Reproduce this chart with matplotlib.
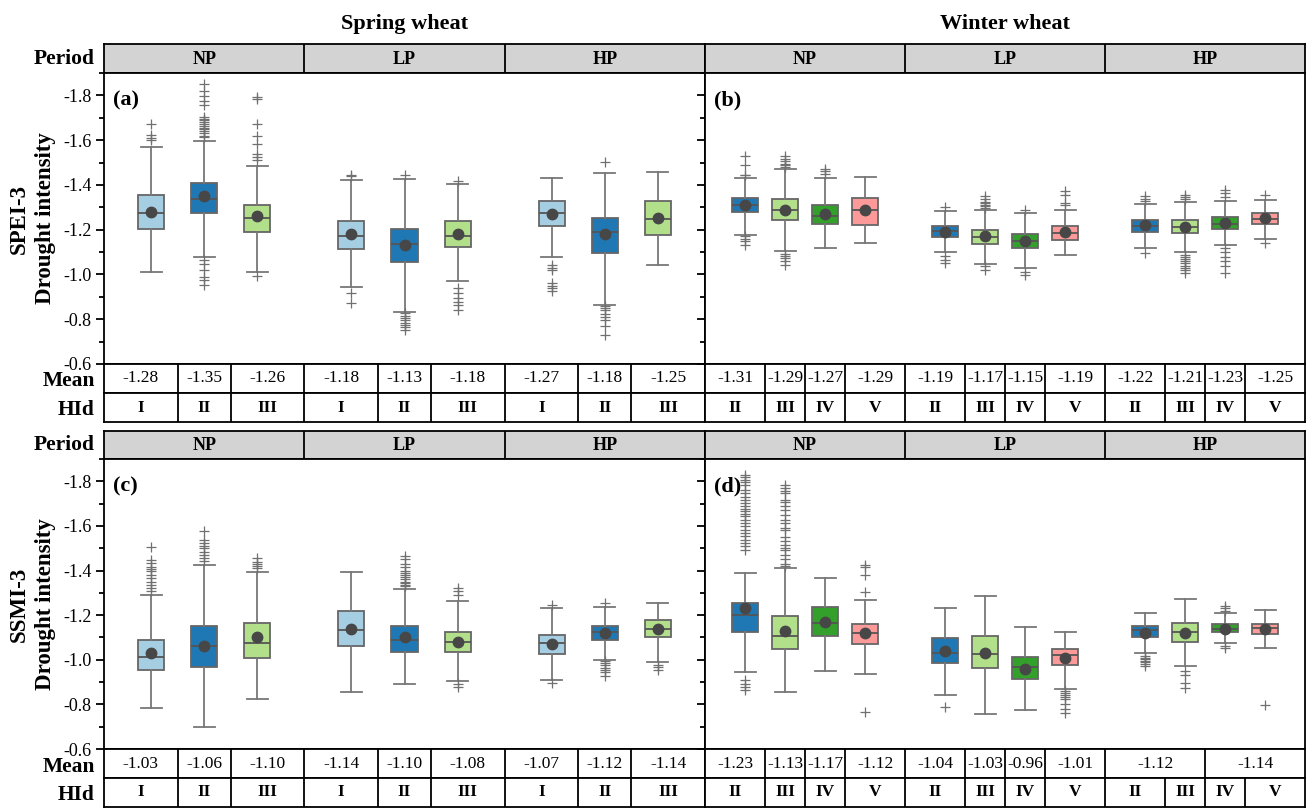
import matplotlib.pyplot as plt
from matplotlib.ticker import MultipleLocator

# ---- data ----
periods = ['NP', 'LP', 'HP']
hid_spring = ['I', 'II', 'III'] * 3
hid_winter = ['II', 'III', 'IV', 'V'] * 3
hid_colors = {'I': '#a6cee3', 'II': '#1f78b4', 'III': '#b2df8a', 'IV': '#33a02c', 'V': '#fb9a99'}

# (a) SPEI-3, spring wheat
a_whislo = [-1.570, -1.597, -1.484, -1.424, -1.427, -1.406, -1.431, -1.455, -1.458]
a_q1 = [-1.357, -1.407, -1.309, -1.240, -1.204, -1.240, -1.328, -1.252, -1.328]
a_med = [-1.276, -1.337, -1.252, -1.173, -1.137, -1.173, -1.276, -1.190, -1.248]
a_q3 = [-1.203, -1.273, -1.188, -1.115, -1.057, -1.124, -1.215, -1.096, -1.176]
a_whishi = [-1.012, -1.079, -1.010, -0.942, -0.834, -0.969, -1.079, -0.864, -1.043]
a_mean = [-1.28, -1.35, -1.26, -1.18, -1.13, -1.18, -1.27, -1.18, -1.25]
a_fliers = [
    [-1.673, -1.621, -1.610, -1.600],
    [-1.849, -1.818, -1.796, -1.773, -1.756, -1.702, -1.695, -1.688, -1.680, -1.672, -1.665,
     -1.655, -1.648, -1.640, -1.632, -1.620, -1.613, -1.066, -1.048, -1.021, -0.988, -0.976, -0.951],
    [-1.793, -1.782, -1.673, -1.618, -1.581, -1.536, -1.524, -1.512, -0.991],
    [-1.446, -1.439, -0.916, -0.872],
    [-1.446, -0.827, -0.815, -0.805, -0.795, -0.785, -0.775, -0.765, -0.752],
    [-1.416, -0.939, -0.916, -0.897, -0.879, -0.864, -0.842],
    [-1.043, -1.031, -1.021, -0.961, -0.949, -0.939, -0.924],
    [-1.503, -0.857, -0.848, -0.840, -0.825, -0.810, -0.795, -0.770, -0.730],
    [],
]

# (b) SPEI-3, winter wheat
b_whislo = [-1.433, -1.472, -1.431, -1.436, -1.285, -1.290, -1.273, -1.290, -1.315, -1.324, -1.330, -1.333]
b_q1 = [-1.342, -1.337, -1.312, -1.342, -1.216, -1.199, -1.181, -1.215, -1.243, -1.242, -1.257, -1.275]
b_med = [-1.309, -1.287, -1.260, -1.288, -1.196, -1.169, -1.151, -1.185, -1.218, -1.213, -1.227, -1.249]
b_q3 = [-1.278, -1.245, -1.227, -1.222, -1.167, -1.136, -1.116, -1.155, -1.189, -1.184, -1.204, -1.225]
b_whishi = [-1.178, -1.107, -1.118, -1.139, -1.100, -1.046, -1.031, -1.085, -1.116, -1.100, -1.130, -1.157]
b_mean = [-1.31, -1.29, -1.27, -1.29, -1.19, -1.17, -1.15, -1.19, -1.22, -1.21, -1.23, -1.25]
b_fliers = [
    [-1.528, -1.487, -1.446, -1.443, -1.170, -1.160, -1.148, -1.133],
    [-1.528, -1.515, -1.505, -1.495, -1.488, -1.480, -1.093, -1.083, -1.072, -1.060, -1.043],
    [-1.472, -1.461, -1.451],
    [],
    [-1.300, -1.084, -1.066, -1.051],
    [-1.349, -1.338, -1.325, -1.318, -1.312, -1.305, -1.296, -1.036, -1.021],
    [-1.290, -1.013, -0.998],
    [-1.372, -1.357, -1.319, -1.312],
    [-1.349, -1.339, -1.327, -1.098],
    [-1.355, -1.345, -1.335, -1.088, -1.078, -1.068, -1.060, -1.050, -1.040, -1.030, -1.018, -1.006],
    [-1.379, -1.364, -1.345, -1.118, -1.100, -1.080, -1.060, -1.040, -1.006],
    [-1.354, -1.140],
]

# (c) SSMI-3, spring wheat
c_whislo = [-1.290, -1.423, -1.393, -1.393, -1.319, -1.263, -1.232, -1.235, -1.254]
c_q1 = [-1.090, -1.150, -1.163, -1.217, -1.150, -1.124, -1.112, -1.151, -1.178]
c_med = [-1.011, -1.060, -1.074, -1.135, -1.090, -1.080, -1.075, -1.123, -1.139]
c_q3 = [-0.952, -0.966, -1.008, -1.063, -1.033, -1.033, -1.026, -1.088, -1.100]
c_whishi = [-0.784, -0.698, -0.825, -0.854, -0.893, -0.903, -0.911, -1.000, -0.988]
c_mean = [-1.03, -1.06, -1.10, -1.14, -1.10, -1.08, -1.07, -1.12, -1.14]
c_fliers = [
    [-1.504, -1.449, -1.435, -1.415, -1.405, -1.398, -1.380, -1.365, -1.350, -1.335, -1.320, -1.307],
    [-1.579, -1.538, -1.525, -1.512, -1.500, -1.485, -1.470, -1.455, -1.441],
    [-1.456, -1.440, -1.430, -1.420, -1.411],
    [],
    [-1.464, -1.450, -1.430, -1.415, -1.400, -1.390, -1.380, -1.370, -1.360, -1.350, -1.343, -1.336, -1.329],
    [-1.322, -1.307, -1.292, -0.893, -0.878],
    [-1.247, -0.896],
    [-1.254, -0.993, -0.985, -0.975, -0.965, -0.955, -0.945, -0.926],
    [-0.978, -0.966, -0.955],
]

# (d) SSMI-3, winter wheat
d_whislo = [-1.389, -1.410, -1.367, -1.268, -1.230, -1.284, -1.145, -1.123, -1.208, -1.271, -1.210, -1.225]
d_q1 = [-1.254, -1.195, -1.235, -1.162, -1.099, -1.108, -1.012, -1.050, -1.153, -1.163, -1.160, -1.162]
d_med = [-1.201, -1.108, -1.165, -1.120, -1.032, -1.027, -0.966, -1.021, -1.132, -1.124, -1.138, -1.141]
d_q3 = [-1.126, -1.047, -1.108, -1.069, -0.984, -0.963, -0.912, -0.976, -1.100, -1.081, -1.123, -1.114]
d_whishi = [-0.943, -0.855, -0.951, -0.936, -0.842, -0.755, -0.776, -0.869, -1.030, -0.970, -1.075, -1.054]
d_mean = [-1.23, -1.13, -1.17, -1.12, -1.04, -1.03, -0.96, -1.01, -1.12, -1.12, -1.14, -1.14]
d_merge = [(8, 9), (10, 11)]  # mean cells shared by two boxes
d_fliers = [
    [-1.830, -1.819, -1.807, -1.796, -1.785, -1.763, -1.748, -1.730, -1.718, -1.703, -1.688, -1.676,
     -1.665, -1.655, -1.643, -1.628, -1.613, -1.598, -1.580, -1.568, -1.553, -1.538, -1.523, -1.509,
     -1.494, -0.911, -0.893, -0.878, -0.866],
    [-1.785, -1.770, -1.755, -1.748, -1.718, -1.706, -1.688, -1.673, -1.651, -1.625, -1.613, -1.591,
     -1.580, -1.550, -1.531, -1.516, -1.501, -1.491, -1.471, -1.452, -1.431, -1.419],
    [],
    [-1.426, -1.415, -1.381, -1.304, -0.766],
    [-0.788],
    [],
    [],
    [-0.858, -0.850, -0.842, -0.835, -0.825, -0.800, -0.780, -0.760],
    [-1.018, -1.010, -1.003, -0.995, -0.988, -0.982, -0.970],
    [-0.948, -0.933, -0.896, -0.873],
    [-1.239, -1.230, -1.217, -1.063, -1.053],
    [-0.797],
]

# ---- figure ----
W, H = 1307, 808
plt.rcParams['font.family'] = ['Liberation Serif', 'DejaVu Serif']
plt.rcParams['axes.unicode_minus'] = False
plt.rcParams['axes.linewidth'] = 1.3
fig = plt.figure(figsize=(W / 100, H / 100), dpi=100)


def px_axes(l, t, r, b):
    return fig.add_axes([l / W, 1 - b / H, (r - l) / W, (b - t) / H])


def blank(ax):
    ax.set_xlim(0, 3)
    ax.set_ylim(0, 1)
    ax.set_xticks([])
    ax.set_yticks([])


def draw_panel(x0, x1, rows, hid, whislo, q1, med, q3, whishi, means, fliers,
               letter, show_yticks, merge=()):
    n = len(hid) // 3
    offs = [0.235, 0.5, 0.765] if n == 3 else [0.2, 0.4, 0.6, 0.8]
    pos = [g + o for g in range(3) for o in offs]

    # period header
    hdr = px_axes(x0, rows[0], x1, rows[1])
    blank(hdr)
    hdr.set_facecolor('#d3d3d3')
    for g in range(3):
        hdr.text(g + 0.5, 0.47, periods[g], ha='center', va='center', fontsize=13, fontweight='bold')
        if g > 0:
            hdr.axvline(g, color='k', lw=1.3)

    # box plot
    ax = px_axes(x0, rows[1], x1, rows[2])
    stats = [dict(whislo=whislo[i], q1=q1[i], med=med[i], q3=q3[i], whishi=whishi[i],
                  mean=means[i], fliers=fliers[i]) for i in range(len(hid))]
    bp = ax.bxp(stats, positions=pos, widths=0.13, capwidths=0.105, patch_artist=True,
                showmeans=True, manage_ticks=False,
                boxprops=dict(edgecolor='#666666', linewidth=1.3),
                whiskerprops=dict(color='#777777', linewidth=1.3),
                capprops=dict(color='#777777', linewidth=1.3),
                medianprops=dict(color='#555555', linewidth=1.3),
                meanprops=dict(marker='o', markerfacecolor='#474747', markeredgecolor='#474747',
                               markersize=7.5),
                flierprops=dict(marker='+', markeredgecolor='#707070', markersize=7,
                                markeredgewidth=0.9))
    for patch, h in zip(bp['boxes'], hid):
        patch.set_facecolor(hid_colors[h])
    ax.set_xlim(0, 3)
    ax.set_ylim(-0.6, -1.9)
    ax.yaxis.set_major_locator(MultipleLocator(0.2))
    ax.yaxis.set_minor_locator(MultipleLocator(0.1))
    ax.set_xticks([])
    ax.tick_params(axis='y', which='major', direction='out', length=6, width=1.3,
                   labelsize=13, pad=3, labelleft=show_yticks)
    ax.tick_params(axis='y', which='minor', direction='out', length=3.5, width=1.3)
    ax.text(0.015, 0.905, letter, transform=ax.transAxes, fontsize=16, fontweight='bold',
            va='center', ha='left')

    # cell boundaries
    inner = [(pos[i] + pos[i + 1]) / 2 for i in range(len(pos) - 1) if (i + 1) % n != 0]
    merged_bounds = [(pos[i] + pos[j]) / 2 for i, j in merge]

    mrow = px_axes(x0, rows[2], x1, rows[3])
    blank(mrow)
    edges = [0, 1, 2, 3]
    mean_bounds = sorted(set(edges + [b for b in inner if b not in merged_bounds]))
    for b in mean_bounds[1:-1]:
        mrow.axvline(b, color='k', lw=1.3)
    for left, right in zip(mean_bounds[:-1], mean_bounds[1:]):
        idx = [i for i, p in enumerate(pos) if left < p < right]
        mrow.text((left + right) / 2, 0.5, f'{means[idx[0]]:.2f}', ha='center', va='center',
                  fontsize=12.5)

    hrow = px_axes(x0, rows[3], x1, rows[4])
    blank(hrow)
    hid_bounds = sorted(edges + inner)
    for b in hid_bounds[1:-1]:
        hrow.axvline(b, color='k', lw=1.3)
    for left, right in zip(hid_bounds[:-1], hid_bounds[1:]):
        idx = [i for i, p in enumerate(pos) if left < p < right]
        hrow.text((left + right) / 2, 0.5, hid[idx[0]], ha='center', va='center',
                  fontsize=12.5, fontweight='bold')
    return ax


top_rows = (44, 73, 364, 393, 422)
bot_rows = (431, 459, 749, 778, 807)

draw_panel(104, 705, top_rows, hid_spring, a_whislo, a_q1, a_med, a_q3, a_whishi, a_mean,
           a_fliers, '(a)', True)
draw_panel(705, 1305, top_rows, hid_winter, b_whislo, b_q1, b_med, b_q3, b_whishi, b_mean,
           b_fliers, '(b)', False)
draw_panel(104, 705, bot_rows, hid_spring, c_whislo, c_q1, c_med, c_q3, c_whishi, c_mean,
           c_fliers, '(c)', True)
draw_panel(705, 1305, bot_rows, hid_winter, d_whislo, d_q1, d_med, d_q3, d_whishi, d_mean,
           d_fliers, '(d)', False, merge=d_merge)

# titles and row labels
fig.text(404.5 / W, 1 - 29 / H, 'Spring wheat', ha='center', va='baseline', fontsize=16, fontweight='bold')
fig.text(1005 / W, 1 - 29 / H, 'Winter wheat', ha='center', va='baseline', fontsize=16, fontweight='bold')

for rows, index_name in [(top_rows, 'SPEI-3'), (bot_rows, 'SSMI-3')]:
    fig.text(95 / W, 1 - (rows[0] + rows[1]) / 2 / H, 'Period', ha='right', va='center',
             fontsize=15.5, fontweight='bold')
    fig.text(95 / W, 1 - (rows[2] + 22.5) / H, 'Mean', ha='right', va='baseline',
             fontsize=15.5, fontweight='bold')
    fig.text(95 / W, 1 - (rows[3] + 22.5) / H, 'HId', ha='right', va='baseline',
             fontsize=15.5, fontweight='bold')
    yc = (rows[1] + rows[2]) / 2
    fig.text(19 / W, 1 - yc / H, index_name, ha='center', va='center', rotation=90,
             fontsize=16.5, fontweight='bold')
    fig.text(46 / W, 1 - yc / H, 'Drought intensity', ha='center', va='center', rotation=90,
             fontsize=16.5, fontweight='bold')

fig.savefig('out.png', dpi=100)
